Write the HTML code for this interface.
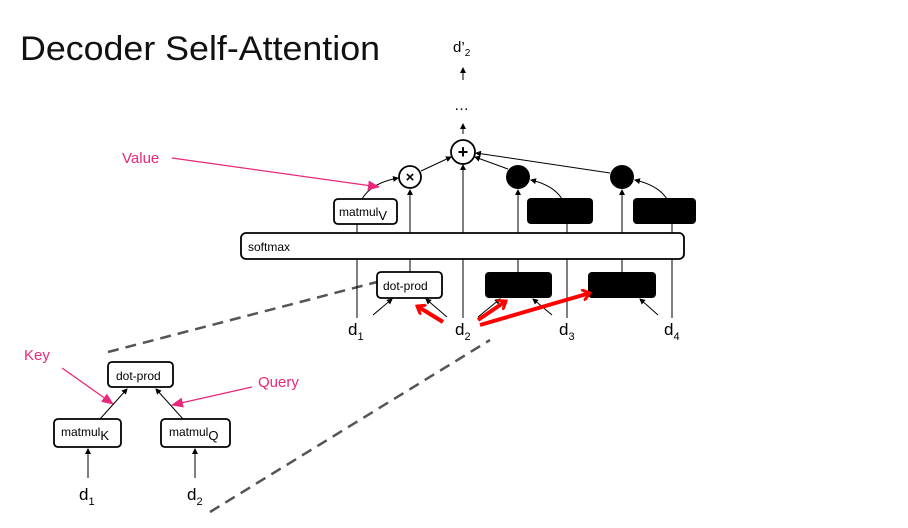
<!DOCTYPE html><html><head><style>body{margin:0;background:#fff}svg{display:block}text{font-family:"Liberation Sans",sans-serif}</style></head><body>
<svg width="908" height="528" viewBox="0 0 908 528" xmlns="http://www.w3.org/2000/svg">
<defs>
<marker id="a" markerWidth="6" markerHeight="6" refX="5" refY="3" orient="auto" markerUnits="userSpaceOnUse"><path d="M0,0L6,3L0,6z" fill="#000"/></marker>
<marker id="p" markerWidth="12" markerHeight="10" refX="11" refY="5" orient="auto" markerUnits="userSpaceOnUse"><path d="M0,0L12,5L0,10z" fill="#e8287a"/></marker>
<marker id="r" markerWidth="10" markerHeight="12" refX="8" refY="6" orient="auto" markerUnits="userSpaceOnUse"><path d="M0,0L8,6L0,12" fill="none" stroke="#f00" stroke-width="3"/></marker>
</defs>
<text x="20" y="60" font-size="34" fill="#111" textLength="360" lengthAdjust="spacingAndGlyphs">Decoder Self-Attention</text>
<text x="453" y="52" font-size="15">d’<tspan font-size="10" dy="4">2</tspan></text>
<line x1="463" y1="80" x2="463" y2="68" stroke="#000" marker-end="url(#a)"/>
<text x="454" y="110" font-size="15">…</text>
<line x1="463" y1="134" x2="463" y2="124" stroke="#000" marker-end="url(#a)"/>
<g stroke="#555" stroke-width="2.5" stroke-dasharray="11,7" fill="none">
<line x1="108" y1="352" x2="377" y2="282"/><line x1="210" y1="512" x2="490" y2="340"/></g>
<g fill="none" stroke="#000" stroke-width="1">
<path d="M357,318 L357,215 Q360,185 398,178" marker-end="url(#a)"/>
<path d="M567,318 L567,215 Q565,188 531,180" marker-end="url(#a)"/>
<path d="M672,318 L672,215 Q670,188 635,180" marker-end="url(#a)"/>
<line x1="410" y1="233" x2="410" y2="190" marker-end="url(#a)"/>
<line x1="410" y1="272" x2="410" y2="259"/>
<line x1="518" y1="233" x2="518" y2="190" marker-end="url(#a)"/>
<line x1="518" y1="272" x2="518" y2="259"/>
<line x1="622" y1="233" x2="622" y2="190" marker-end="url(#a)"/>
<line x1="622" y1="272" x2="622" y2="259"/>
<line x1="463" y1="318" x2="463" y2="165" marker-end="url(#a)"/>
<line x1="421" y1="171" x2="451" y2="157" marker-end="url(#a)"/>
<line x1="508" y1="169" x2="475" y2="157" marker-end="url(#a)"/>
<line x1="610" y1="173" x2="476" y2="153" marker-end="url(#a)"/>
<line x1="373" y1="315" x2="392" y2="299" marker-end="url(#a)"/>
<line x1="447" y1="317" x2="426" y2="299" marker-end="url(#a)"/>
<line x1="478" y1="317" x2="500" y2="299" marker-end="url(#a)"/>
<line x1="552" y1="315" x2="533" y2="299" marker-end="url(#a)"/>
<line x1="658" y1="315" x2="640" y2="299" marker-end="url(#a)"/>
</g>
<g stroke="#000" stroke-width="1.8" fill="#fff">
<rect x="334" y="199" width="63" height="25" rx="4"/>
<rect x="241" y="233" width="443" height="26" rx="5"/>
<rect x="377" y="272" width="65" height="26" rx="4"/>
<circle cx="463" cy="152" r="12"/><circle cx="410" cy="177" r="11"/>
</g>
<g fill="#000">
<rect x="527" y="198" width="66" height="26" rx="4"/><rect x="633" y="198" width="63" height="26" rx="4"/>
<rect x="485" y="272" width="67" height="26" rx="4"/><rect x="588" y="272" width="68" height="26" rx="4"/>
<circle cx="518" cy="177" r="12"/><circle cx="622" cy="177" r="12"/></g>
<text x="463" y="158" font-size="18" text-anchor="middle" font-weight="bold">+</text>
<text x="410" y="182" font-size="15" text-anchor="middle" font-weight="bold">×</text>
<text x="339" y="216" font-size="12">matmul<tspan font-size="13" dy="4">V</tspan></text>
<text x="248" y="251" font-size="12">softmax</text>
<text x="383" y="290" font-size="12">dot-prod</text>
<g font-size="17"><text x="348" y="335">d<tspan font-size="11" dy="5">1</tspan></text><text x="455" y="335">d<tspan font-size="11" dy="5">2</tspan></text><text x="559" y="335">d<tspan font-size="11" dy="5">3</tspan></text><text x="664" y="335">d<tspan font-size="11" dy="5">4</tspan></text></g>
<g stroke="#f00" stroke-width="4" fill="none">
<line x1="443" y1="322" x2="417" y2="306" marker-end="url(#r)"/>
<line x1="478" y1="320" x2="506" y2="301" marker-end="url(#r)"/>
<line x1="480" y1="325" x2="590" y2="293" marker-end="url(#r)"/>
</g>
<text x="122" y="163" font-size="15" fill="#e8287a">Value</text>
<line x1="172" y1="158" x2="379" y2="187" stroke="#e8287a" stroke-width="1.3" marker-end="url(#p)"/>
<text x="24" y="360" font-size="15" fill="#e8287a">Key</text>
<line x1="62" y1="368" x2="113" y2="404" stroke="#e8287a" stroke-width="1.3" marker-end="url(#p)"/>
<text x="258" y="387" font-size="15" fill="#e8287a">Query</text>
<line x1="252" y1="387" x2="172" y2="405" stroke="#e8287a" stroke-width="1.3" marker-end="url(#p)"/>
<g fill="none" stroke="#000">
<line x1="100" y1="419" x2="127" y2="389" marker-end="url(#a)"/>
<line x1="183" y1="419" x2="156" y2="389" marker-end="url(#a)"/>
<line x1="88" y1="478" x2="88" y2="449" marker-end="url(#a)"/>
<line x1="195" y1="478" x2="195" y2="449" marker-end="url(#a)"/>
</g>
<g stroke="#000" stroke-width="1.8" fill="#fff">
<rect x="108" y="362" width="65" height="25" rx="4"/>
<rect x="54" y="419" width="67" height="28" rx="4"/>
<rect x="161" y="419" width="69" height="28" rx="4"/></g>
<text x="116" y="380" font-size="12">dot-prod</text>
<text x="61" y="436" font-size="12">matmul<tspan font-size="13" dy="4">K</tspan></text>
<text x="169" y="436" font-size="12">matmul<tspan font-size="13" dy="4">Q</tspan></text>
<g font-size="17"><text x="79" y="500">d<tspan font-size="11" dy="5">1</tspan></text><text x="187" y="500">d<tspan font-size="11" dy="5">2</tspan></text></g>
</svg></body></html>
